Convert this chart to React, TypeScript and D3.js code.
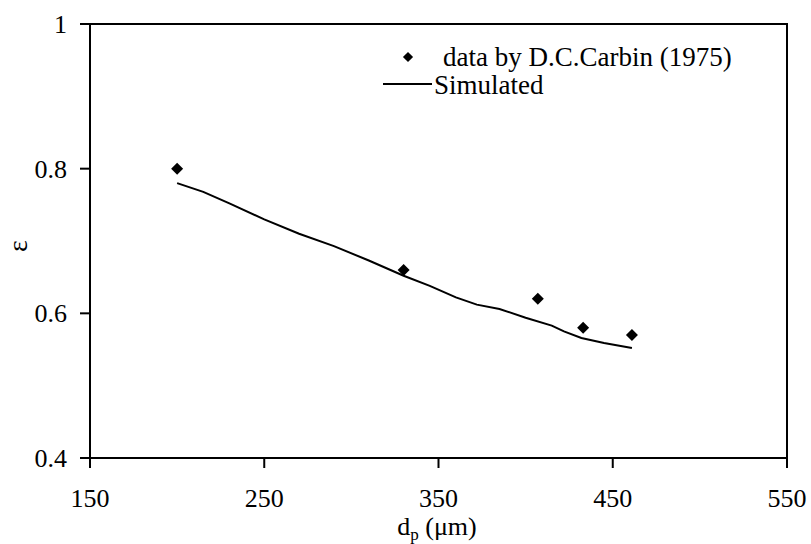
import React from "react";
import * as d3 from "d3";

const xTicks = [150, 250, 350, 450, 550];
const yTicks = [0.4, 0.6, 0.8, 1];

const dataX = [200, 330, 407, 433, 461];
const dataY = [0.8, 0.66, 0.62, 0.58, 0.57];

const simX = [200, 215, 230, 250, 270, 290, 310, 330, 345, 360, 372, 385, 400, 415, 422, 432, 445, 461];
const simY = [0.78, 0.768, 0.752, 0.73, 0.71, 0.693, 0.673, 0.652, 0.638, 0.622, 0.612, 0.606, 0.594, 0.583, 0.575, 0.566, 0.559, 0.552];

const W = 811;
const H = 544;
const L = 90, R = 787, T = 24, B = 458;
const FONT = "Liberation Serif, Times New Roman, DejaVu Serif, serif";

export default function App() {
  const x = d3.scaleLinear().domain([150, 550]).range([L, R]);
  const y = d3.scaleLinear().domain([0.4, 1]).range([B, T]);
  const line = d3
    .line<number>()
    .x((_, i) => x(simX[i]))
    .y((d) => y(d));
  const diamond = d3.symbol().type(d3.symbolSquare).size(72)();
  const ts = { fontFamily: FONT };

  return (
    <svg width={W} height={H} style={{ position: "absolute", left: 0, top: 0, fontFamily: FONT }}>
      <rect x={0} y={0} width={W} height={H} fill="white" />
      <rect x={L} y={T} width={R - L} height={B - T} fill="none" stroke="black" strokeWidth={2} />
      {xTicks.map((t) => (
        <g key={"x" + t}>
          <line x1={x(t)} x2={x(t)} y1={B} y2={B + 10} stroke="black" strokeWidth={2} />
          <text x={x(t)} y={507} textAnchor="middle" fontSize={26} style={ts}>
            {t}
          </text>
        </g>
      ))}
      {yTicks.map((t) => (
        <g key={"y" + t}>
          <line x1={L - 10} x2={L} y1={y(t)} y2={y(t)} stroke="black" strokeWidth={2} />
          <text x={67} y={y(t)} dy="0.35em" textAnchor="end" fontSize={26} style={ts}>
            {t}
          </text>
        </g>
      ))}
      <path d={line(simY) || ""} fill="none" stroke="black" strokeWidth={2} />
      {dataY.map((v, i) => (
        <path key={"d" + i} d={diamond || ""} transform={`translate(${x(dataX[i])},${y(v)}) rotate(45)`} fill="black" />
      ))}
      {/* legend */}
      <path d={diamond || ""} transform="translate(408,57) rotate(45) scale(0.85)" fill="black" />
      <text x={443} y={66} fontSize={27} style={ts}>
        data by D.C.Carbin (1975)
      </text>
      <line x1={383} x2={432} y1={84} y2={84} stroke="black" strokeWidth={2} />
      <text x={434} y={94} fontSize={27} style={ts}>
        Simulated
      </text>
      <text x={437} y={535} textAnchor="middle" fontSize={26} style={ts}>
        d<tspan fontSize={17} dy={5}>p</tspan>
        <tspan dy={-5}> (μm)</tspan>
      </text>
      <text transform="translate(27,246) rotate(-90)" textAnchor="middle" fontSize={28} style={ts}>
        ε
      </text>
    </svg>
  );
}
